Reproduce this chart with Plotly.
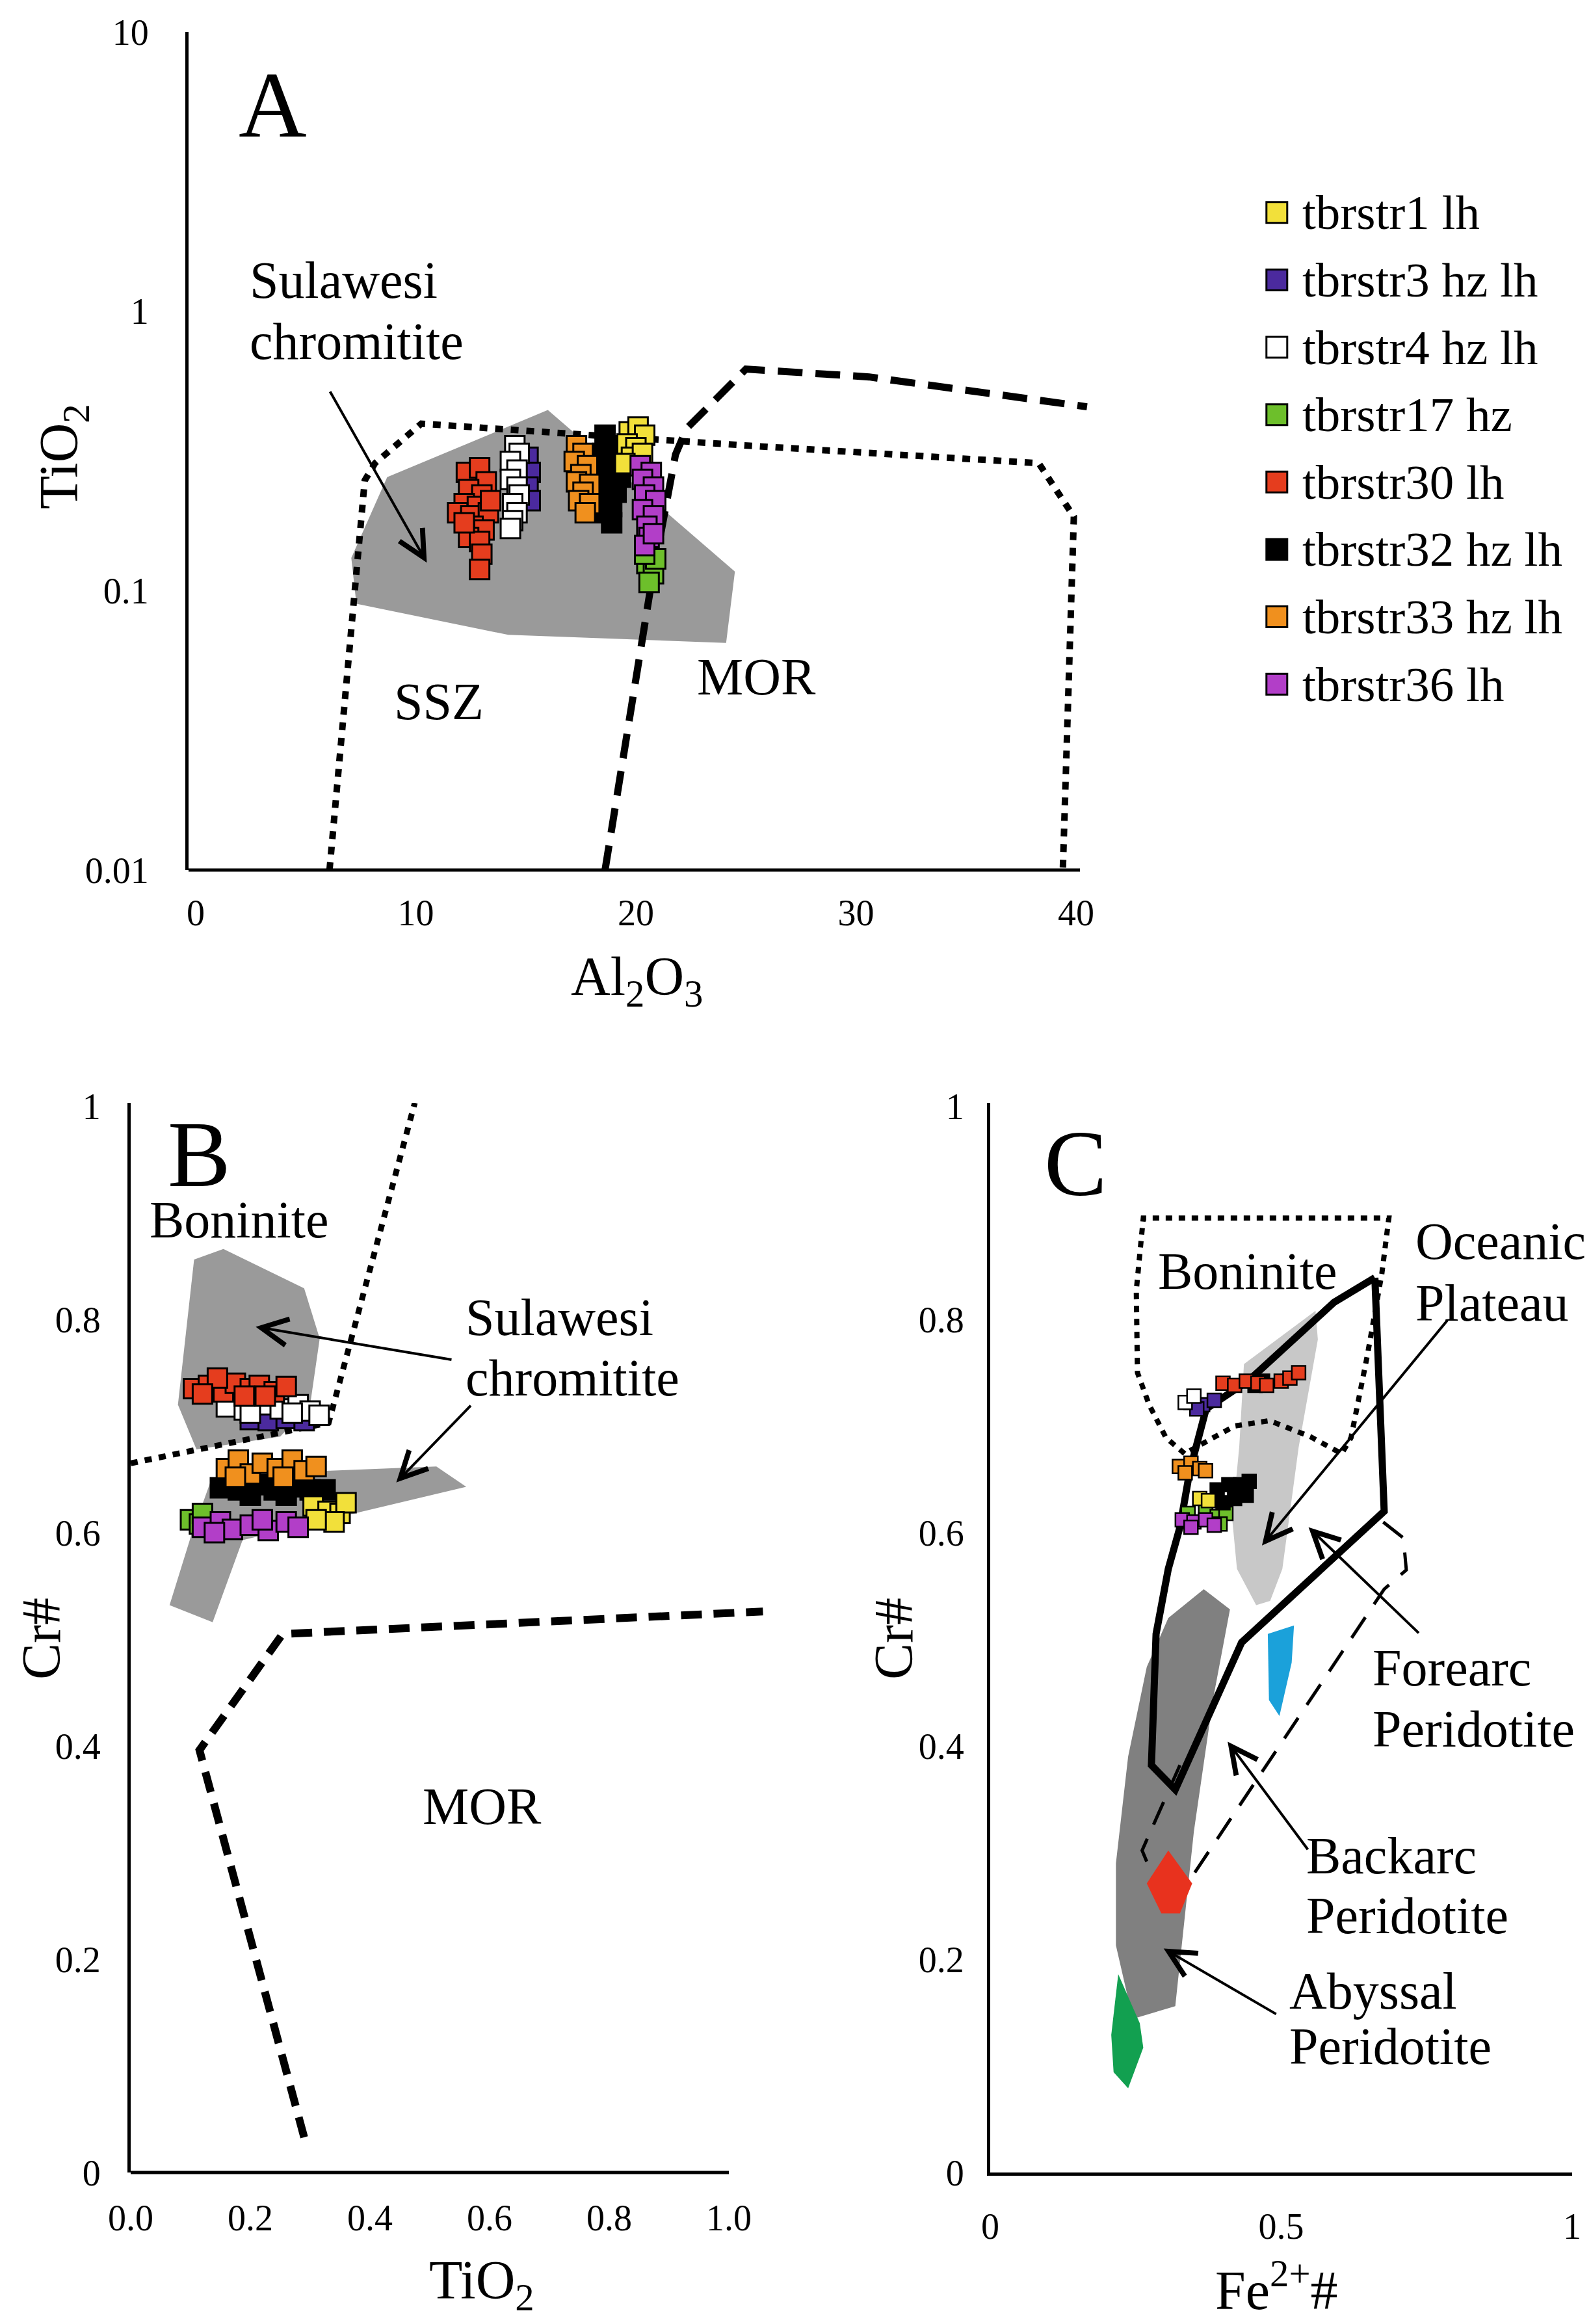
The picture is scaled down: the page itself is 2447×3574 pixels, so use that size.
import math
import plotly.graph_objects as go

W, H = 2447, 3574
FONT = "Liberation Serif"

# ---------------- series (legend) ----------------
SERIES = ["tbrstr1 lh", "tbrstr3 hz lh", "tbrstr4 hz lh", "tbrstr17 hz",
          "tbrstr30 lh", "tbrstr32 hz lh", "tbrstr33 hz lh", "tbrstr36 lh"]
COLORS = ["#f2e03a", "#4b2a9e", "#ffffff", "#6dbf2b",
          "#e53d1e", "#000000", "#f0901e", "#b23ec8"]
DRAW_ORDER = [3, 1, 2, 5, 0, 6, 7, 4]

# ---------------- Panel A: Al2O3 vs TiO2 ----------------
A_AL_1 = [19.7, 20.1, 20.4, 19.6, 20.0, 19.8, 20.3, 19.5]
A_TI_1 = [0.37, 0.385, 0.36, 0.335, 0.325, 0.30, 0.31, 0.285]
A_AL_3 = [15.1, 15.2, 15.1, 15.2]
A_TI_3 = [0.30, 0.265, 0.235, 0.21]
A_AL_4 = [14.5, 14.7, 14.3, 14.6, 14.3, 14.6, 14.7, 14.4, 14.6, 14.4, 14.3]
A_TI_4 = [0.33, 0.31, 0.29, 0.27, 0.25, 0.235, 0.22, 0.205, 0.19, 0.178, 0.167]
A_AL_17 = [20.5, 20.8, 20.6, 20.9, 20.4]
A_TI_17 = [0.125, 0.115, 0.107, 0.13, 0.135]
A_AL_30 = [12.3, 12.9, 13.2, 12.4, 13.0, 12.2, 12.8, 11.9, 12.5, 13.3, 12.6, 13.1, 12.4, 12.9, 13.0, 12.9, 12.2, 13.4]
A_TI_30 = [0.265, 0.275, 0.245, 0.23, 0.22, 0.205, 0.20, 0.19, 0.185, 0.19, 0.17, 0.165, 0.155, 0.15, 0.135, 0.119, 0.175, 0.21]
A_AL_32 = [18.6, 18.9, 18.5, 19.0, 18.7, 19.1, 18.6, 18.9, 18.5, 19.1, 18.7, 18.9, 18.6, 18.9, 19.2, 19.3]
A_TI_32 = [0.36, 0.33, 0.31, 0.30, 0.28, 0.27, 0.26, 0.245, 0.235, 0.225, 0.21, 0.20, 0.19, 0.175, 0.31, 0.255]
A_AL_33 = [17.3, 17.6, 17.2, 17.8, 17.5, 17.3, 17.9, 17.6, 17.4, 17.9, 17.7]
A_TI_33 = [0.33, 0.31, 0.29, 0.28, 0.26, 0.245, 0.24, 0.225, 0.21, 0.205, 0.19]
A_AL_36 = [20.2, 20.7, 20.3, 20.8, 20.4, 20.9, 20.3, 20.8, 20.5, 20.6, 20.4, 20.8]
A_TI_36 = [0.28, 0.265, 0.25, 0.235, 0.22, 0.21, 0.195, 0.185, 0.17, 0.155, 0.145, 0.16]

A_SULAWESI_AL = [8.7, 16.0, 24.5, 24.1, 14.2, 7.3, 7.07]
A_SULAWESI_TI = [0.255, 0.443, 0.117, 0.065, 0.0695, 0.0897, 0.131]
A_SSZ_AL = [6.08, 7.68, 8.15, 10.25, 17.8, 25.2, 38.3, 39.9, 39.4]
A_SSZ_TI = [0.01, 0.248, 0.286, 0.396, 0.361, 0.33, 0.286, 0.184, 0.01]
A_MOR_AL = [18.6, 20.65, 21.8, 22.3, 25.0, 30.6, 40.5]
A_MOR_TI = [0.01, 0.1, 0.307, 0.38, 0.621, 0.582, 0.455]

# ---------------- Panel B: TiO2 vs Cr# ----------------
B_TI_1 = [0.305, 0.33, 0.35, 0.36, 0.34, 0.31]
B_CR_1 = [0.625, 0.62, 0.618, 0.628, 0.61, 0.612]
B_TI_3 = [0.2, 0.23, 0.26, 0.29]
B_CR_3 = [0.706, 0.705, 0.707, 0.705]
B_TI_4 = [0.16, 0.19, 0.22, 0.25, 0.28, 0.30, 0.315, 0.2, 0.27]
B_CR_4 = [0.718, 0.715, 0.72, 0.716, 0.72, 0.714, 0.71, 0.712, 0.712]
B_TI_17 = [0.1, 0.115, 0.12]
B_CR_17 = [0.612, 0.608, 0.618]
B_TI_30 = [0.105, 0.13, 0.155, 0.175, 0.2, 0.215, 0.24, 0.26, 0.145, 0.19, 0.225, 0.12]
B_CR_30 = [0.735, 0.738, 0.732, 0.74, 0.735, 0.738, 0.732, 0.737, 0.745, 0.728, 0.728, 0.73]
B_TI_32 = [0.15, 0.18, 0.21, 0.24, 0.27, 0.3, 0.325, 0.2, 0.26]
B_CR_32 = [0.642, 0.64, 0.645, 0.64, 0.643, 0.64, 0.64, 0.635, 0.635]
B_TI_33 = [0.16, 0.18, 0.2, 0.22, 0.245, 0.27, 0.29, 0.31, 0.175, 0.255]
B_CR_33 = [0.66, 0.668, 0.655, 0.665, 0.66, 0.668, 0.658, 0.662, 0.652, 0.652]
B_TI_36 = [0.12, 0.15, 0.17, 0.2, 0.23, 0.26, 0.28, 0.14, 0.22]
B_CR_36 = [0.605, 0.61, 0.603, 0.607, 0.602, 0.61, 0.605, 0.6, 0.612]

B_BON_TI = [0.106, 0.155, 0.290, 0.316, 0.30, 0.25, 0.110, 0.079]
B_BON_CR = [0.856, 0.866, 0.829, 0.782, 0.72, 0.69, 0.678, 0.72]
B_SUL_TI = [0.133, 0.101, 0.065, 0.137, 0.187, 0.561, 0.511, 0.331]
B_SUL_CR = [0.647, 0.597, 0.532, 0.516, 0.593, 0.643, 0.662, 0.658]
B_DOT_TI = [0.0, 0.331, 0.475]
B_DOT_CR = [0.665, 0.703, 1.003]
B_DASH_TI = [0.290, 0.115, 0.254, 1.057]
B_DASH_CR = [0.033, 0.396, 0.505, 0.526]

# ---------------- Panel C: Fe2+# vs Cr# ----------------
C_FE_1 = [0.36, 0.375]
C_CR_1 = [0.632, 0.63]
C_FE_3 = [0.345, 0.365, 0.385, 0.355]
C_CR_3 = [0.722, 0.72, 0.724, 0.716]
C_FE_4 = [0.335, 0.35]
C_CR_4 = [0.722, 0.728]
C_FE_17 = [0.34, 0.37, 0.39, 0.405, 0.395]
C_CR_17 = [0.618, 0.62, 0.615, 0.618, 0.608]
C_FE_30 = [0.40, 0.42, 0.44, 0.46, 0.475, 0.50, 0.515, 0.53]
C_CR_30 = [0.74, 0.738, 0.742, 0.74, 0.738, 0.742, 0.745, 0.75]
C_FE_32 = [0.39, 0.41, 0.43, 0.445, 0.42, 0.40, 0.44, 0.455, 0.468]
C_CR_32 = [0.64, 0.645, 0.645, 0.648, 0.632, 0.628, 0.635, 0.738, 0.742]
C_FE_33 = [0.325, 0.345, 0.36, 0.335, 0.37]
C_CR_33 = [0.662, 0.665, 0.66, 0.656, 0.658]
C_FE_36 = [0.33, 0.35, 0.37, 0.345, 0.385]
C_CR_36 = [0.612, 0.61, 0.612, 0.605, 0.607]

C_ABY_FE = [0.367, 0.412, 0.383, 0.35, 0.318, 0.245, 0.216, 0.216, 0.237, 0.269, 0.306]
C_ABY_CR = [0.547, 0.528, 0.444, 0.32, 0.156, 0.144, 0.213, 0.29, 0.39, 0.474, 0.52]
C_FORE_FE = [0.436, 0.559, 0.563, 0.53, 0.502, 0.481, 0.457, 0.424, 0.416, 0.428]
C_FORE_CR = [0.758, 0.808, 0.781, 0.68, 0.566, 0.536, 0.532, 0.566, 0.612, 0.681]
C_BLUE_FE = [0.477, 0.522, 0.518, 0.497, 0.479]
C_BLUE_CR = [0.505, 0.513, 0.478, 0.428, 0.443]
C_GREEN_FE = [0.220, 0.257, 0.263, 0.237, 0.212, 0.208]
C_GREEN_CR = [0.186, 0.140, 0.117, 0.079, 0.094, 0.129]
C_RED_FE = [0.269, 0.306, 0.347, 0.326, 0.294]
C_RED_CR = [0.271, 0.302, 0.271, 0.243, 0.243]
C_PLAT_FE = [0.661, 0.591, 0.445, 0.371, 0.343, 0.326, 0.306, 0.285, 0.277, 0.318, 0.432, 0.677, 0.661]
C_PLAT_CR = [0.839, 0.816, 0.743, 0.716, 0.658, 0.605, 0.566, 0.505, 0.382, 0.359, 0.497, 0.620, 0.839]
C_BACK_FE = [0.326, 0.261, 0.302, 0.334, 0.677, 0.715, 0.71, 0.675]
C_BACK_CR = [0.382, 0.302, 0.248, 0.267, 0.547, 0.565, 0.595, 0.61]
C_BON_FE = [0.334, 0.302, 0.273, 0.253, 0.251, 0.263, 0.685, 0.673, 0.648, 0.632, 0.62, 0.604,
            0.55, 0.48, 0.42, 0.38, 0.334]
C_BON_CR = [0.674, 0.689, 0.72, 0.75, 0.827, 0.895, 0.895, 0.843, 0.766, 0.72, 0.689, 0.674,
            0.69, 0.705, 0.70, 0.688, 0.674]

A_PTS = {0: (A_AL_1, A_TI_1), 1: (A_AL_3, A_TI_3), 2: (A_AL_4, A_TI_4), 3: (A_AL_17, A_TI_17),
         4: (A_AL_30, A_TI_30), 5: (A_AL_32, A_TI_32), 6: (A_AL_33, A_TI_33), 7: (A_AL_36, A_TI_36)}
B_PTS = {0: (B_TI_1, B_CR_1), 1: (B_TI_3, B_CR_3), 2: (B_TI_4, B_CR_4), 3: (B_TI_17, B_CR_17),
         4: (B_TI_30, B_CR_30), 5: (B_TI_32, B_CR_32), 6: (B_TI_33, B_CR_33), 7: (B_TI_36, B_CR_36)}
C_PTS = {0: (C_FE_1, C_CR_1), 1: (C_FE_3, C_CR_3), 2: (C_FE_4, C_CR_4), 3: (C_FE_17, C_CR_17),
         4: (C_FE_30, C_CR_30), 5: (C_FE_32, C_CR_32), 6: (C_FE_33, C_CR_33), 7: (C_FE_36, C_CR_36)}

fig = go.Figure()


def poly(x, y, color, xa, ya):
    fig.add_trace(go.Scatter(x=list(x) + [x[0]], y=list(y) + [y[0]], mode="lines", fill="toself",
                             fillcolor=color, line=dict(width=0, color=color), hoverinfo="skip",
                             showlegend=False, xaxis=xa, yaxis=ya))


def pline(x, y, width, dash, xa, ya):
    fig.add_trace(go.Scatter(x=x, y=y, mode="lines", line=dict(width=width, color="black", dash=dash),
                             hoverinfo="skip", showlegend=False, xaxis=xa, yaxis=ya))


def markers(pts, size, lw, xa, ya):
    for i in DRAW_ORDER:
        xs, ys = pts[i]
        fig.add_trace(go.Scatter(x=xs, y=ys, mode="markers", name=SERIES[i], showlegend=False,
                                 marker=dict(symbol="square", size=size, color=COLORS[i],
                                             line=dict(width=lw, color="black")),
                                 xaxis=xa, yaxis=ya))


# Panel A
poly(A_SULAWESI_AL, A_SULAWESI_TI, "#9a9a9a", "x", "y")
pline(A_SSZ_AL, A_SSZ_TI, 10, "12px,12px", "x", "y")
pline(A_MOR_AL, A_MOR_TI, 11, "38px,20px", "x", "y")
markers(A_PTS, 30, 3, "x", "y")

# Panel B
poly(B_BON_TI, B_BON_CR, "#9a9a9a", "x2", "y2")
poly(B_SUL_TI, B_SUL_CR, "#9a9a9a", "x2", "y2")
pline(B_DOT_TI, B_DOT_CR, 9, "11px,11px", "x2", "y2")
pline(B_DASH_TI, B_DASH_CR, 12, "32px,18px", "x2", "y2")
markers(B_PTS, 30, 3, "x2", "y2")

# Panel C
poly(C_ABY_FE, C_ABY_CR, "#808080", "x3", "y3")
poly(C_FORE_FE, C_FORE_CR, "#c8c8c8", "x3", "y3")
poly(C_BLUE_FE, C_BLUE_CR, "#1ba1da", "x3", "y3")
poly(C_GREEN_FE, C_GREEN_CR, "#12a050", "x3", "y3")
pline(C_BACK_FE, C_BACK_CR, 5, "38px,24px", "x3", "y3")
poly(C_RED_FE, C_RED_CR, "#e8321e", "x3", "y3")
pline(C_PLAT_FE, C_PLAT_CR, 11, "solid", "x3", "y3")
pline(C_BON_FE, C_BON_CR, 8, "10px,10px", "x3", "y3")
markers(C_PTS, 21, 2.5, "x3", "y3")

# Legend (manual, drawn on its own hidden axis)
for row, i in enumerate(range(len(SERIES))):
    fig.add_trace(go.Scatter(x=[0.102], y=[row], mode="markers", showlegend=False,
                             marker=dict(symbol="square", size=32, color=COLORS[i],
                                         line=dict(width=3, color="black")),
                             xaxis="x4", yaxis="y4"))

annotations = []
for row, name in enumerate(SERIES):
    annotations.append(dict(x=0.17, y=row, xref="x4", yref="y4", text=name, showarrow=False,
                            xanchor="left", yanchor="middle",
                            font=dict(family=FONT, size=75, color="black")))


def px_x(p):
    return p / W


def px_y(p):
    return 1 - p / H


TICKF = dict(family=FONT, size=56, color="black")
TXT = dict(family=FONT, size=80, color="black")
BIG = dict(family=FONT, size=145, color="black")
TITLEF = dict(family=FONT, size=84, color="black")


def note(text, x, y, xr, yr, font=TXT, xanchor="center"):
    annotations.append(dict(x=x, y=y, xref=xr, yref=yr, text=text, showarrow=False, font=font,
                            xanchor=xanchor, yanchor="middle"))


def arrow(x0, y0, x1, y1, xr, yr):
    annotations.append(dict(x=x1, y=y1, ax=x0, ay=y0, xref=xr, yref=yr, axref=xr, ayref=yr, text="",
                            showarrow=True, arrowhead=5, arrowsize=2.0, arrowwidth=4,
                            arrowcolor="black", standoff=0, startstandoff=0))


def title(text, x, y, angle=0):
    annotations.append(dict(x=px_x(x), y=px_y(y), xref="paper", yref="paper", text=text,
                            textangle=angle, showarrow=False, font=TITLEF,
                            xanchor="center", yanchor="middle"))


L = math.log10
# Panel A texts
note("A", 3.5, L(5.5), "x", "y", BIG)
note("Sulawesi", 2.4, L(1.29), "x", "y", xanchor="left")
note("chromitite", 2.4, L(0.78), "x", "y", xanchor="left")
note("SSZ", 11.05, L(0.040), "x", "y")
note("MOR", 25.47, L(0.049), "x", "y")
arrow(6.08, L(0.52), 10.5, L(0.126), "x", "y")

# Panel B texts
note("B", 0.115, 0.955, "x2", "y2", BIG)
note("Boninite", 0.182, 0.893, "x2", "y2")
note("Sulawesi", 0.558, 0.802, "x2", "y2", xanchor="left")
note("chromitite", 0.558, 0.745, "x2", "y2", xanchor="left")
note("MOR", 0.588, 0.343, "x2", "y2")
arrow(0.538, 0.762, 0.209, 0.793, "x2", "y2")
arrow(0.57, 0.72, 0.444, 0.647, "x2", "y2")

# Panel C texts
note("C", 0.147, 0.946, "x3", "y3", BIG)
note("Boninite", 0.443, 0.845, "x3", "y3")
note("Oceanic", 0.728, 0.873, "x3", "y3", xanchor="left")
note("Plateau", 0.728, 0.815, "x3", "y3", xanchor="left")
note("Forearc", 0.655, 0.473, "x3", "y3", xanchor="left")
note("Peridotite", 0.655, 0.416, "x3", "y3", xanchor="left")
note("Backarc", 0.541, 0.297, "x3", "y3", xanchor="left")
note("Peridotite", 0.541, 0.241, "x3", "y3", xanchor="left")
note("Abyssal", 0.512, 0.170, "x3", "y3", xanchor="left")
note("Peridotite", 0.512, 0.118, "x3", "y3", xanchor="left")
arrow(0.787, 0.800, 0.467, 0.588, "x3", "y3")
arrow(0.738, 0.505, 0.547, 0.605, "x3", "y3")
arrow(0.547, 0.302, 0.408, 0.404, "x3", "y3")
arrow(0.493, 0.148, 0.298, 0.210, "x3", "y3")

# Axis titles
title("TiO<sub>2</sub>", 89, 694, -90)
title("Al<sub>2</sub>O<sub>3</sub>", 971, 1500)
title("Cr#", 55, 2512, -90)
title("TiO<sub>2</sub>", 733, 3505)
title("Cr#", 1366, 2512, -90)
title("Fe<sup>2+</sup>#", 1955, 3508)

shapes = [
    dict(type="line", xref="x", yref="y domain", x0=-0.325, x1=40.18, y0=0, y1=0,
         line=dict(color="black", width=5)),
    dict(type="line", xref="x2", yref="y2 domain", x0=0, x1=1.0, y0=0, y1=0,
         line=dict(color="black", width=5)),
]

common = dict(showgrid=False, zeroline=False, ticks="", tickfont=TICKF, color="black",
              automargin=False)

fig.update_layout(
    template="none",
    width=W, height=H, margin=dict(l=0, r=0, t=0, b=0, pad=0), autosize=False,
    paper_bgcolor="white", plot_bgcolor="rgba(0,0,0,0)", showlegend=False,
    xaxis=dict(domain=[px_x(282), px_x(1665.6)], range=[-0.325, 40.55], anchor="y",
               tickvals=[0, 10, 20, 30, 40], showline=False, ticklabelstandoff=28, **common),
    yaxis=dict(domain=[px_y(1330), px_y(41)], type="log", range=[-2, 1], anchor="x",
               tickvals=[0.01, 0.1, 1, 10], ticktext=["0.01", "0.1", "1", "10"],
               showline=True, linewidth=5, linecolor="black", ticklabelstandoff=45, **common),
    xaxis2=dict(domain=[px_x(193), px_x(193 + 1.07 * 920)], range=[0, 1.07], anchor="y2",
                tickvals=[0, 0.2, 0.4, 0.6, 0.8, 1.0],
                ticktext=["0.0", "0.2", "0.4", "0.6", "0.8", "1.0"],
                showline=False, ticklabelstandoff=32, **common),
    yaxis2=dict(domain=[px_y(3333), px_y(1688)], range=[0, 1.003], anchor="x2",
                tickvals=[0, 0.2, 0.4, 0.6, 0.8, 1], ticktext=["0", "0.2", "0.4", "0.6", "0.8", "1"],
                showline=True, linewidth=5, linecolor="black", ticklabelstandoff=30, **common),
    xaxis3=dict(domain=[px_x(1515), px_x(2410)], range=[0, 1], anchor="y3",
                tickvals=[0, 0.5, 1], ticktext=["0", "0.5", "1"],
                showline=True, linewidth=5, linecolor="black", ticklabelstandoff=30, **common),
    yaxis3=dict(domain=[px_y(3333), px_y(1688)], range=[0, 1.003], anchor="x3",
                tickvals=[0, 0.2, 0.4, 0.6, 0.8, 1], ticktext=["0", "0.2", "0.4", "0.6", "0.8", "1"],
                showline=True, linewidth=5, linecolor="black", ticklabelstandoff=24, **common),
    xaxis4=dict(domain=[px_x(1900), px_x(2447)], range=[0, 1], visible=False, anchor="y4",
                automargin=False),
    yaxis4=dict(domain=[px_y(1096), px_y(267)], range=[7.5, -0.5], visible=False, anchor="x4",
                automargin=False),
    annotations=annotations,
    shapes=shapes,
)

fig.write_html("out.html")
